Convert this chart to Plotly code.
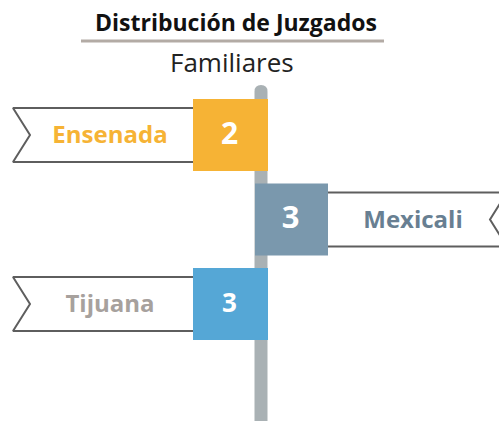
import plotly.graph_objects as go

# ---- data ----
title_text = "Distribución de Juzgados"
subtitle_text = "Familiares"
categories = ["Ensenada", "Mexicali", "Tijuana"]
values = [2, 3, 3]
box_colors = ["#F6B335", "#7A98AD", "#55A7D6"]
label_colors = ["#F6B335", "#687F92", "#A7A19D"]
number_sizes = [30, 31, 26]

# ---- geometry (page-pixel coordinate system) ----
W, H = 499, 421
pole_x0, pole_x1, pole_top = 254.5, 267.5, 85
row_y0, row_step = 135, 84.5
box_w, box_h = 75, 72
rib_half = 27
notch = 17

fig = go.Figure()

for i, (cat, val) in enumerate(zip(categories, values)):
    yc = row_y0 + i * row_step
    left = (i % 2 == 0)
    if left:
        bx0, bx1 = 193, 268
        rx_out = 13
        xs = [bx0 + 5, rx_out, rx_out + notch, rx_out, bx0 + 5]
        label_x = 110
    else:
        bx0, bx1 = 255, 328
        rx_out = 507
        xs = [bx1 - 5, rx_out, rx_out - notch, rx_out, bx1 - 5]
        label_x = 413
    ys = [yc - rib_half, yc - rib_half, yc, yc + rib_half, yc + rib_half]
    # ribbon fill
    fig.add_trace(go.Scatter(x=xs + [xs[0]], y=ys + [ys[0]], mode="lines", fill="toself",
                             fillcolor="white", line=dict(width=0), hoverinfo="skip", showlegend=False))
    # ribbon outline (open on the box side)
    fig.add_trace(go.Scatter(x=xs, y=ys, mode="lines", line=dict(color="#5E5E5E", width=2),
                             hoverinfo="skip", showlegend=False))
    # colored box
    by0, by1 = yc - box_h / 2, yc + box_h / 2
    fig.add_trace(go.Scatter(x=[bx0, bx1, bx1, bx0, bx0], y=[by0, by0, by1, by1, by0], mode="lines",
                             fill="toself", fillcolor=box_colors[i], line=dict(width=0),
                             hoverinfo="skip", showlegend=False))
    # number
    fig.add_trace(go.Scatter(x=[(bx0 + bx1) / 2 - 1], y=[yc + 1], mode="text", text=[str(val)],
                             textfont=dict(family="Open Sans", size=number_sizes[i], color="white", weight="bold"),
                             textposition="middle center", hoverinfo="skip", showlegend=False))
    # label
    fig.add_trace(go.Scatter(x=[label_x], y=[yc + 2], mode="text", text=[cat],
                             textfont=dict(family="Open Sans", size=24, color=label_colors[i], weight="bold"),
                             textposition="middle center", hoverinfo="skip", showlegend=False))

# pole (behind everything)
r = (pole_x1 - pole_x0) / 2
pole_path = (f"M {pole_x0},{H + 5} L {pole_x0},{pole_top + r} "
             f"Q {pole_x0},{pole_top} {pole_x0 + r},{pole_top} "
             f"Q {pole_x1},{pole_top} {pole_x1},{pole_top + r} L {pole_x1},{H + 5} Z")

fig.update_layout(
    width=W, height=H,
    margin=dict(l=0, r=0, t=0, b=0),
    paper_bgcolor="white", plot_bgcolor="white",
    hovermode=False,
    xaxis=dict(range=[0, W], visible=False, fixedrange=True),
    yaxis=dict(range=[H, 0], visible=False, fixedrange=True),
    shapes=[
        dict(type="path", path=pole_path, xref="x", yref="y", fillcolor="#A9B1B4",
             line=dict(width=0), layer="below"),
        dict(type="line", x0=81, x1=384, y0=41, y1=41, xref="x", yref="y",
             line=dict(color="#B3ABA5", width=3)),
    ],
    annotations=[
        dict(text=title_text, x=236, y=22, xref="x", yref="y", showarrow=False,
             font=dict(family="Open Sans", size=23, color="#111111", weight="bold")),
        dict(text=subtitle_text, x=232, y=62, xref="x", yref="y", showarrow=False,
             font=dict(family="Open Sans", size=26, color="#222222")),
    ],
)

fig.write_html(
    "out.html",
    config={"displayModeBar": False},
    post_script="document.body.style.margin='0px';document.documentElement.style.overflow='hidden';",
)
